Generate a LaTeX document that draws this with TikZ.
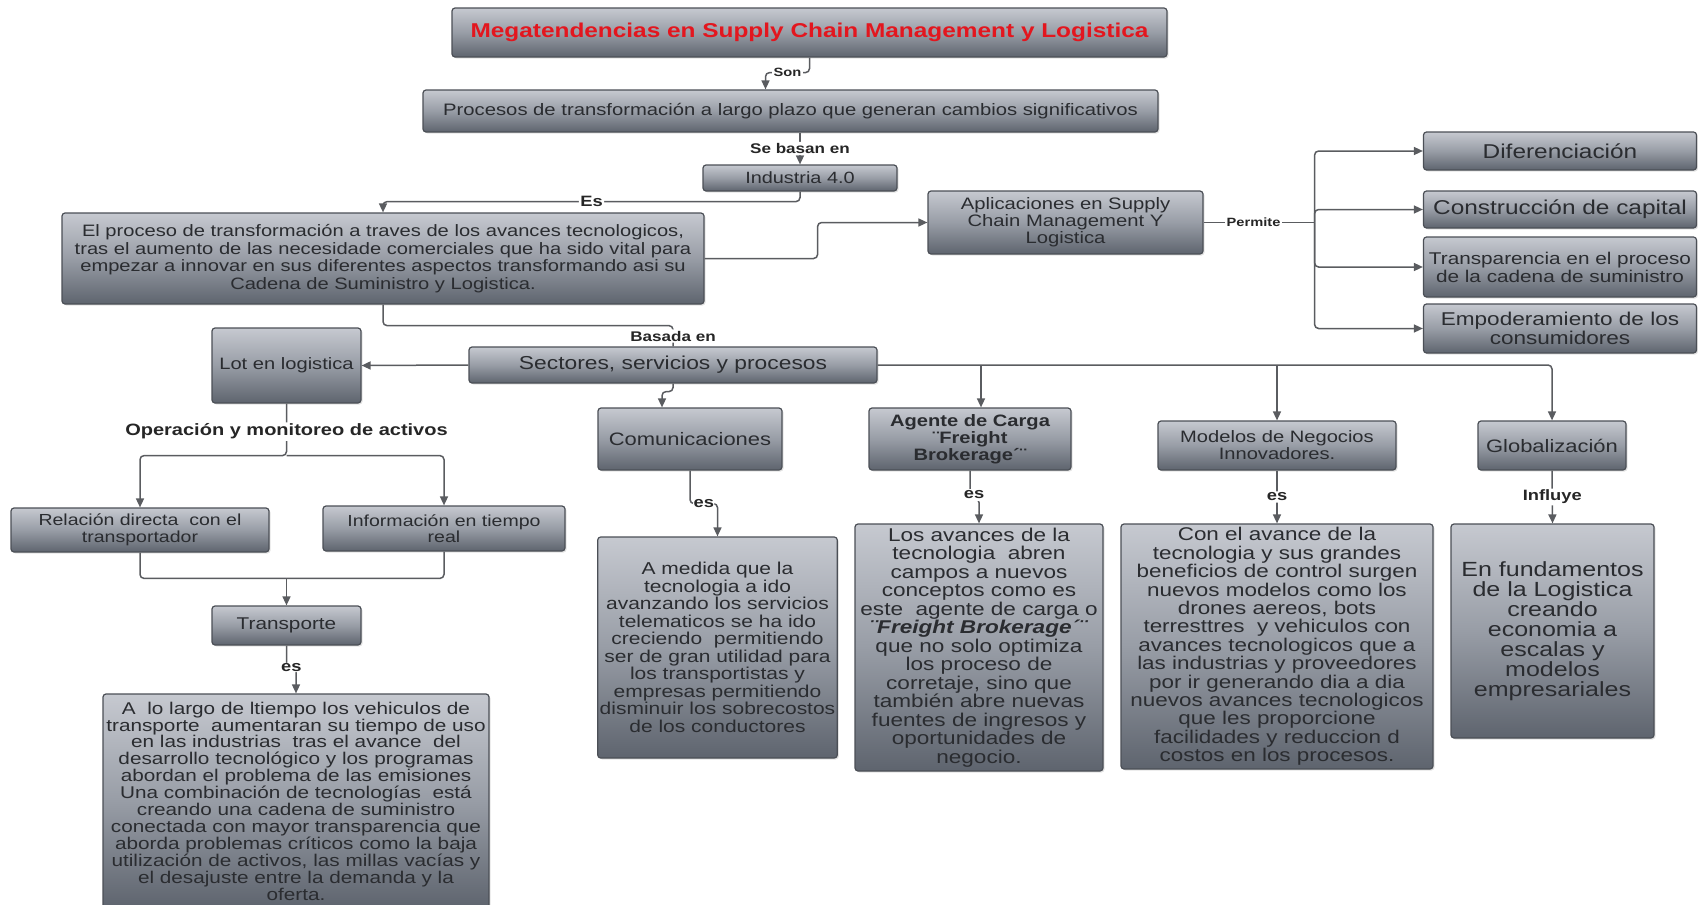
\documentclass[tikz,border=0pt]{standalone}
\usepackage{fontspec}
\setmainfont[FakeStretch=1.22]{Liberation Sans}
\usetikzlibrary{arrows.meta,shadows,calc}
\definecolor{boxtop}{HTML}{C6C9D0}
\definecolor{boxmid}{HTML}{989DA6}
\definecolor{boxbot}{HTML}{5E646E}
\definecolor{boxline}{HTML}{4B4F56}
\definecolor{txt}{HTML}{2A2C30}
\definecolor{conn}{HTML}{5A5C60}
\definecolor{ttl}{HTML}{E3161E}
\newcommand\fsz[2]{\fontsize{#1}{#2}\selectfont}
\begin{document}
\begin{tikzpicture}[x=1pt,y=-1pt,
  box/.style={draw=boxline, line width=1.2pt, rounded corners=3pt,
    top color=boxtop, bottom color=boxbot, middle color=boxmid,
    text=txt, align=center, inner sep=2pt,
    drop shadow={opacity=0.22,shadow xshift=1.5pt,shadow yshift=-1.5pt}},
  wh/.style 2 args={minimum width=#1pt, minimum height=#2pt},
  cn/.style={draw=conn, line width=1.5pt, rounded corners=4pt},
  ar/.style={cn, -{Triangle[length=9pt,width=8pt]}},
  lbl/.style={font=\bfseries\fsz{14}{15}, text=black!85, fill=white, inner sep=1.5pt}
]
\useasboundingbox (0,0) rectangle (1698,905);

% boxes
\node[box, wh={715}{49}, text=ttl, font=\bfseries\fsz{20}{22}] (title) at (809.5,32.5) {Megatendencias en Supply Chain Management y Logistica};
\node[box, wh={735}{42}, font=\fsz{16.6}{19}] (procesos) at (790.5,111) {Procesos de transformación a largo plazo que generan cambios significativos};
\node[box, wh={194}{26}, font=\fsz{16.3}{16}] (industria) at (800,178) {Industria 4.0};
\node[box, wh={642}{91}, font=\fsz{16.5}{17.5}] (proceso) at (383,258.5) {El proceso de transformación a traves de los avances tecnologicos,\\ tras el aumento de las necesidade comerciales que ha sido vital para\\ empezar a innovar en sus diferentes aspectos transformando asi su\\ Cadena de Suministro y Logistica.};
\node[box, wh={275}{63}, font=\fsz{16.6}{17}] (aplic) at (1065.5,222.5) {Aplicaciones en Supply\\ Chain Management Y\\ Logistica};
\node[box, wh={273}{38}, font=\fsz{20}{21}] (dif) at (1560,151) {Diferenciación};
\node[box, wh={273}{37}, font=\fsz{20}{21}] (cons) at (1560,209.5) {Construcción de capital};
\node[box, wh={273}{60}, font=\fsz{17}{18}] (trans) at (1560,267) {Transparencia en el proceso\\ de la cadena de suministro};
\node[box, wh={273}{49}, font=\fsz{18.5}{19}] (empo) at (1560,328.5) {Empoderamiento de los\\ consumidores};
\node[box, wh={149}{75}, font=\fsz{16.5}{17}] (lot) at (286.5,365.5) {Lot en logistica};
\node[box, wh={408}{36}, font=\fsz{18.7}{20}] (sect) at (673,365) {Sectores, servicios y procesos};
\node[box, wh={184}{62}, font=\fsz{18}{19}] (comm) at (690,439) {Comunicaciones};
\node[box, wh={202}{62}, font=\bfseries\fsz{16.5}{17}] (agente) at (970,439) {Agente de Carga\\ ¨Freight\\ Brokerage´¨};
\node[box, wh={238}{49}, font=\fsz{16.5}{17}] (modelos) at (1277,445.5) {Modelos de Negocios\\ Innovadores.};
\node[box, wh={148}{49}, font=\fsz{18}{19}] (glob) at (1552,445.5) {Globalización};
\node[box, wh={258}{44}, font=\fsz{16}{16.5}] (rel) at (140,530) {Relación directa\ \ con el\\ transportador};
\node[box, wh={242}{45}, font=\fsz{16}{16.5}] (info) at (444,528.5) {Información en tiempo\\ real};
\node[box, wh={149}{39}, font=\fsz{17}{18}] (transporte) at (286.5,625.5) {Transporte};

\node[box, wh={239}{221}, font=\fsz{17.2}{17.5}] (commdesc) at (717.5,647.5) {A medida que la\\ tecnologia a ido\\ avanzando los servicios\\ telematicos se ha ido\\ creciendo\ \ permitiendo\\ ser de gran utilidad para\\ los transportistas y\\ empresas permitiendo\\ disminuir los sobrecostos\\ de los conductores};
\node[box, wh={248}{247}, font=\fsz{18.5}{18.5}] (agdesc) at (979,647.5) {Los avances de la\\ tecnologia\ \ abren\\ campos a nuevos\\ conceptos como es\\ este\ \ agente de carga o\\ \textbf{\textit{¨Freight Brokerage´¨}}\\ que no solo optimiza\\ los proceso de\\ corretaje, sino que\\ también abre nuevas\\ fuentes de ingresos y\\ oportunidades de\\ negocio.};
\node[box, wh={312}{245}, font=\fsz{18.4}{18.4}] (moddesc) at (1277,646.5) {Con el avance de la\\ tecnologia y sus grandes\\ beneficios de control surgen\\ nuevos modelos como los\\ drones aereos, bots\\ terresttres\ \ y vehiculos con\\ avances tecnologicos que a\\ las industrias y proveedores\\ por ir generando dia a dia\\ nuevos avances tecnologicos\\ que les proporcione\\ facilidades y reduccion d\\ costos en los procesos.};
\node[box, wh={203}{214}, font=\fsz{20.5}{20}] (globdesc) at (1552.5,631) {En fundamentos\\ de la Logistica\\ creando\\ economia a\\ escalas y\\ modelos\\ empresariales};
\node[box, wh={386}{214}, font=\fsz{17}{16.9}] (tdesc) at (296,801) {A\ \ lo largo de ltiempo los vehiculos de\\ transporte\ \ aumentaran su tiempo de uso\\ en las industrias\ \ tras el avance\ \ del\\ desarrollo tecnológico y los programas\\ abordan el problema de las emisiones\\ Una combinación de tecnologías\ \ está\\ creando una cadena de suministro\\ conectada con mayor transparencia que\\ aborda problemas críticos como la baja\\ utilización de activos, las millas vacías y\\ el desajuste entre la demanda y la\\ oferta.};

% connectors
\draw[ar] (title.south) -- ++(0,15) -| node[pos=0.25, lbl, font=\bfseries\fsz{12}{13}] {Son} ([xshift=-25pt]procesos.north);
\draw[ar] (industria.north |- procesos.south) -- node[lbl] {Se basan en} (industria.north);
\draw[ar] (industria.south) -- ++(0,10) -| node[pos=0.25, lbl, font=\bfseries\fsz{15}{16}] {Es} (proceso.north);
\draw[ar] (proceso.east) -- ++(113,0) |- (aplic.west);
\draw[cn] (aplic.east) -- node[lbl, font=\bfseries\fsz{12}{13}, pos=0.45] {Permite} ++(111,0) coordinate (pj);
\draw[ar] (pj) |- (dif.west);
\draw[ar] (pj) |- (cons.west);
\draw[ar] (pj) |- (trans.west);
\draw[ar] (pj) |- (empo.west);
\draw[cn] (proceso.south) -- ++(0,21) -| node[pos=0.75, lbl] {Basada en} (sect.north);
\draw[ar] (sect.west) -- (lot.east);
\draw[ar] (sect.south) -- ++(0,8) -| ([xshift=-28pt]comm.north);
\coordinate (agin) at ([xshift=11pt]agente.north);
\draw[ar] (sect.east) -| (glob.north);
\draw[ar] (agin |- sect.east) -- (agin);
\draw[ar] (modelos.north |- sect.east) -- (modelos.north);
\draw[ar] (comm.south) -- ++(0,33) -| node[pos=0.25, lbl, font=\bfseries\fsz{15}{16}, inner sep=0.5pt] {es} (commdesc.north);
\draw[ar] (agente.south) -- ++(0,28) -| (agdesc.north);
\node[lbl, font=\bfseries\fsz{15}{16}] (esag) at (974,495) {es};
\draw[ar] (modelos.south) -- node[lbl, font=\bfseries\fsz{15}{16}] {es} (moddesc.north);
\draw[ar] (glob.south) -- node[lbl, font=\bfseries\fsz{15}{16}] {Influye} (globdesc.north);
\draw[ar] (lot.south) -- node[pos=0.54, lbl, font=\bfseries\fsz{16.4}{17}] {Operación y monitoreo de activos} ++(0,52) coordinate (lj) -| (rel.north);
\draw[ar] (lj) -| (info.north);
\coordinate (tj) at ($(transporte.north)+(0,-27)$);
\draw[cn] (rel.south) |- (tj);
\draw[cn] (info.south) |- (tj);
\draw[ar] (tj) -- (transporte.north);
\draw[ar] (transporte.south) -- ++(0,22) -| node[pos=0.25, lbl, font=\bfseries\fsz{15}{16}, inner sep=0.5pt] {es} (tdesc.north);
\end{tikzpicture}
\end{document}
